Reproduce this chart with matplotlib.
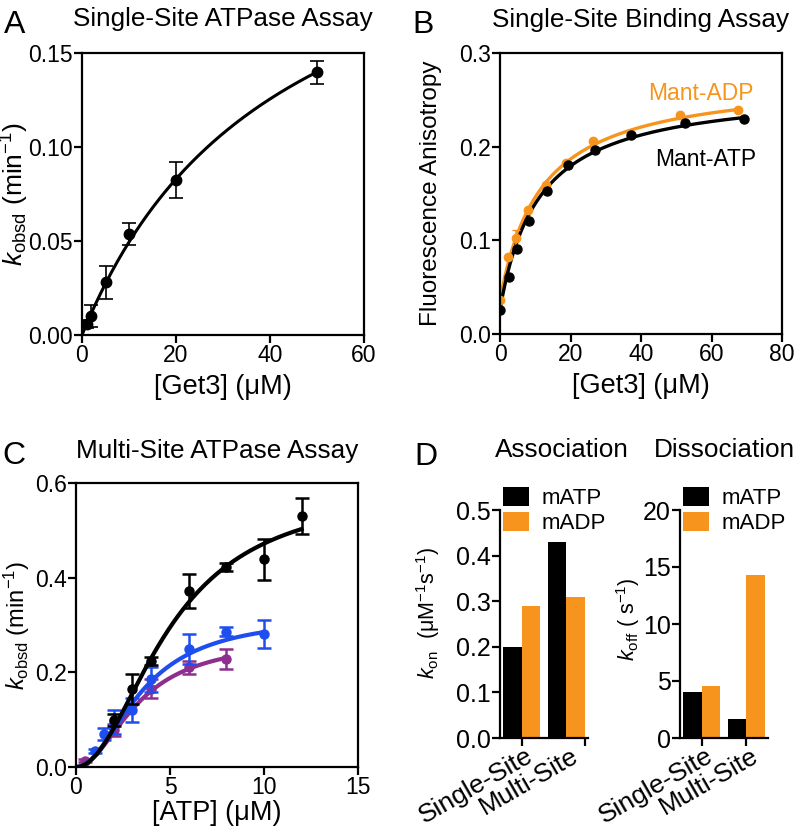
import numpy as np
import matplotlib
matplotlib.use("Agg")
import matplotlib.pyplot as plt

plt.rcParams["font.family"] = ["Liberation Sans", "DejaVu Sans"]
plt.rcParams["mathtext.fontset"] = "custom"
plt.rcParams["mathtext.rm"] = "Liberation Sans"
plt.rcParams["mathtext.it"] = "Liberation Sans:italic"
plt.rcParams["mathtext.bf"] = "Liberation Sans:bold"

ORANGE = "#F7941D"
BLUE = "#1E4FEE"
PURPLE = "#8E2E8F"

# --- A: single-site ATPase
a_x = [1, 2, 5, 10, 20, 50]
a_y = [0.0059, 0.0102, 0.028, 0.0538, 0.0826, 0.1397]
a_err = [0.002, 0.0058, 0.0089, 0.006, 0.0096, 0.0062]
a_vmax, a_km = 0.258, 42.2

# --- B: single-site binding (anisotropy)
b_atp_x = [0, 2.6, 4.9, 8.2, 13.3, 19.2, 27, 37.2, 52.4, 69.1]
b_atp_y = [0.0256, 0.0613, 0.0912, 0.121, 0.153, 0.180, 0.1967, 0.212, 0.225, 0.2298]
b_adp_x = [0, 2.2, 4.5, 7.9, 13, 18.7, 26.3, 51.1, 67.4]
b_adp_y = [0.036, 0.0826, 0.103, 0.1325, 0.159, 0.183, 0.206, 0.234, 0.2394]
b_adp_err = [0, 0, 0.008, 0, 0, 0, 0, 0, 0]
b_atp_fit = (0.026, 0.2377, 11.0)   # offset, Bmax, Kd
b_adp_fit = (0.036, 0.239, 11.7)

# --- C: multi-site ATPase
c_blk_x = [2, 3, 4, 6, 8, 10, 12]
c_blk_y = [0.099, 0.165, 0.224, 0.372, 0.423, 0.439, 0.531]
c_blk_err = [0.012, 0.032, 0.008, 0.036, 0.008, 0.043, 0.038]
c_blu_x = [1, 1.5, 2, 3, 4, 6, 8, 10]
c_blu_y = [0.034, 0.070, 0.095, 0.121, 0.185, 0.249, 0.286, 0.281]
c_blu_err = [0.004, 0.012, 0.025, 0.025, 0.027, 0.031, 0.010, 0.030]
c_pur_x = [0.5, 2, 4, 6, 8]
c_pur_y = [0.013, 0.078, 0.165, 0.211, 0.228]
c_pur_err = [0.003, 0.012, 0.02, 0.014, 0.022]
c_blk_fit = (0.59, 5.0, 2.0)   # Vmax, K, n
c_blu_fit = (0.32, 3.5, 2.0)
c_pur_fit = (0.27, 3.3, 2.0)

# --- D: association / dissociation
d_cats = ["Single-Site", "Multi-Site"]
d_kon_matp = [0.20, 0.43]
d_kon_madp = [0.29, 0.31]
d_koff_matp = [4.0, 1.7]
d_koff_madp = [4.55, 14.3]

W, H = 796, 835
fig = plt.figure(figsize=(W / 100, H / 100), dpi=100)


def px_axes(left, top, right, bottom):
    return fig.add_axes([left / W, 1 - bottom / H, (right - left) / W, (bottom - top) / H])


def style(ax, box=True, fs=16.5):
    for s in ax.spines.values():
        s.set_linewidth(1.6)
    if not box:
        ax.spines["top"].set_visible(False)
        ax.spines["right"].set_visible(False)
    ax.tick_params(direction="out", length=5.5, width=1.6, labelsize=fs, pad=1,
                   top=False, right=False)


def hill(x, p):
    v, k, n = p
    return v * x ** n / (k ** n + x ** n)


kobsd = r"$\mathit{k}_{\mathrm{obsd}}$ (min$^{\mathrm{-1}}$)"

# A
axA = px_axes(82, 53, 364, 335)
style(axA)
xa = np.linspace(0, 50, 200)
axA.plot(xa, a_vmax * xa / (a_km + xa), color="black", lw=2.2, zorder=2)
axA.errorbar(a_x, a_y, yerr=a_err, fmt="o", color="black", ms=7.5, capsize=5,
             elinewidth=1.2, capthick=1.2, zorder=3)
axA.set_xlim(0, 60)
axA.set_ylim(0, 0.15)
axA.set_xticks([0, 20, 40, 60])
axA.set_yticks([0, 0.05, 0.10, 0.15])
axA.set_yticklabels(["0.00", "0.05", "0.10", "0.15"])
axA.set_xlabel("[Get3] (μM)", fontsize=19.5)
axA.set_ylabel(kobsd, fontsize=19)
axA.xaxis.set_label_coords(0.5, -0.14)
axA.yaxis.set_label_coords(-0.18, 0.5)

# B
axB = px_axes(500, 53, 782, 334)
style(axB)
o, bm, kd = b_atp_fit
xb = np.linspace(0, 69, 200)
axB.plot(xb, o + bm * xb / (kd + xb), color="black", lw=2.4, zorder=2)
o, bm, kd = b_adp_fit
xb2 = np.linspace(0, 67.5, 200)
axB.plot(xb2, o + bm * xb2 / (kd + xb2), color=ORANGE, lw=2.4, zorder=1)
axB.errorbar(b_adp_x, b_adp_y, yerr=b_adp_err, fmt="o", color=ORANGE, ms=6, capsize=3,
             elinewidth=1.2, zorder=2)
axB.plot(b_atp_x, b_atp_y, "o", color="black", ms=6.5, zorder=3)
axB.set_xlim(0, 80)
axB.set_ylim(0, 0.3)
axB.set_xticks([0, 20, 40, 60, 80])
axB.set_yticks([0, 0.1, 0.2, 0.3])
axB.set_yticklabels(["0.0", "0.1", "0.2", "0.3"])
axB.set_xlabel("[Get3] (μM)", fontsize=19.5)
axB.set_ylabel("Fluorescence Anisotropy", fontsize=17.5)
axB.xaxis.set_label_coords(0.5, -0.14)
axB.yaxis.set_label_coords(-0.205, 0.5)
axB.text(0.525, 0.833, "Mant-ADP", color=ORANGE, fontsize=16.5, transform=axB.transAxes,
         va="baseline")
axB.text(0.55, 0.598, "Mant-ATP", color="black", fontsize=16.5, transform=axB.transAxes,
         va="baseline")

# C
axC = px_axes(76, 483, 358, 767)
style(axC)
for xs, ys, es, p, col, z in [(c_pur_x, c_pur_y, c_pur_err, c_pur_fit, PURPLE, 1),
                              (c_blu_x, c_blu_y, c_blu_err, c_blu_fit, BLUE, 2),
                              (c_blk_x, c_blk_y, c_blk_err, c_blk_fit, "black", 3)]:
    xc = np.linspace(0, max(xs), 200)
    axC.plot(xc, hill(xc, p), color=col, lw=3, zorder=z + 0.5)
    axC.errorbar(xs, ys, yerr=es, fmt="o", color=col, ms=6.5, capsize=5,
                 elinewidth=1.8, capthick=1.8, zorder=z)
axC.set_xlim(0, 15)
axC.set_ylim(0, 0.6)
axC.set_xticks([0, 5, 10, 15])
axC.set_yticks([0, 0.2, 0.4, 0.6])
axC.set_yticklabels(["0.0", "0.2", "0.4", "0.6"])
axC.set_xlabel("[ATP] (μM)", fontsize=19.5)
axC.set_ylabel(kobsd, fontsize=17)
axC.xaxis.set_label_coords(0.5, -0.115)
axC.yaxis.set_label_coords(-0.155, 0.5)

# D
bw = 0.42
pos = np.arange(len(d_cats))
for left, vals_a, vals_b, yl, yt, ylab, lx, ly, tick_pos in [
        (500, d_kon_matp, d_kon_madp, 0.5, [0, 0.1, 0.2, 0.3, 0.4, 0.5],
         r"$\mathit{k}_{\mathrm{on}}$  (μM$^{\mathrm{-1}}$s$^{\mathrm{-1}}$)", -0.66, 0.55, [0, 1 + bw]),
        (680, d_koff_matp, d_koff_madp, 20, [0, 5, 10, 15, 20],
         r"$\mathit{k}_{\mathrm{off}}$ ( s$^{\mathrm{-1}}$)", -0.43, 0.52, [0, 1])]:
    ax = px_axes(left, 510, left + 88, 738)
    style(ax, box=False, fs=18)
    ax.bar(pos - bw / 2, vals_a, bw, color="black", label="mATP")
    ax.bar(pos + bw / 2, vals_b, bw, color=ORANGE, label="mADP")
    ax.set_xlim(-0.48, 1.48)
    ax.set_ylim(0, yl)
    ax.set_yticks(yt)
    if yl < 1:
        ax.set_yticklabels([f"{v:.1f}" for v in yt])
    ax.set_xticks(pos + 0.08)
    ax.set_xticklabels(d_cats, rotation=30, ha="right", rotation_mode="anchor", fontsize=19)
    ax.tick_params(axis="x", length=0, pad=4)
    ax.set_xticks(tick_pos, minor=True)
    ax.tick_params(axis="x", which="minor", length=5.5, width=1.6)
    ax.set_ylabel(ylab, fontsize=15.5)
    ax.yaxis.set_label_coords(lx, ly)
    ax.legend(loc="upper left", bbox_to_anchor=(0.03, 1.1), frameon=False, fontsize=16,
              handlelength=1.2, handleheight=0.9, handletextpad=0.55, labelspacing=0.15,
              borderpad=0, borderaxespad=0)


# titles and panel letters
def ftext(x, y, s, size, **kw):
    fig.text(x / W, 1 - y / H, s, fontsize=size, va="baseline", **kw)


ftext(223, 26, "Single-Site ATPase Assay", 18.8, ha="center")
ftext(641, 27, "Single-Site Binding Assay", 18.8, ha="center")
ftext(217, 458, "Multi-Site ATPase Assay", 18.8, ha="center")
ftext(562, 457, "Association", 18.8, ha="center")
ftext(724, 457, "Dissociation", 18.8, ha="center")
ftext(4, 33, "A", 23)
ftext(412, 33, "B", 23)
ftext(2, 464, "C", 23)
ftext(414, 465, "D", 23)

fig.savefig("out.png", dpi=100)
